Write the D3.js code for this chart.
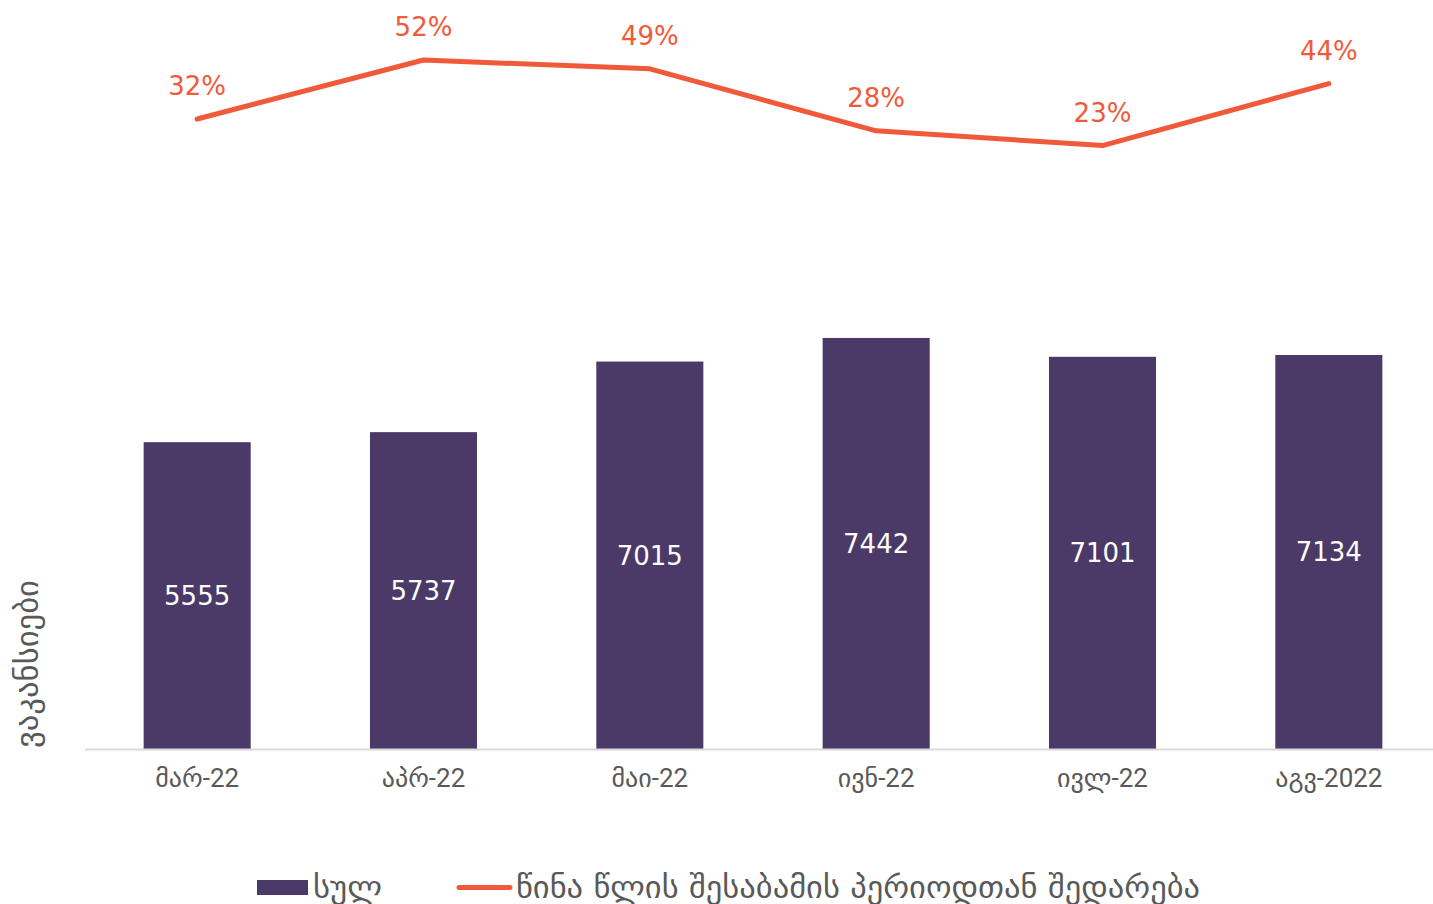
<!DOCTYPE html>
<html><head><meta charset="utf-8">
<script src="https://cdn.jsdelivr.net/npm/d3@7"></script>
<style>body{margin:0;background:#fff}svg{display:block}</style>
</head><body>
<script>
const categories = ["მარ-22","აპრ-22","მაი-22","ივნ-22","ივლ-22","აგვ-2022"];
const totals = [5555,5737,7015,7442,7101,7134];
const yoy = [0.32,0.52,0.49,0.28,0.23,0.44];
const seriesNames = ["სულ","წინა წლის შესაბამის პერიოდთან შედარება"];
const yTitle = "ვაკანსიები";

const W=1433,H=904;
const svg=d3.select("body").append("svg").attr("width",W).attr("height",H);
const purple="#4B3A67", orange="#F05A3A", grey="#595959";
const x=d3.scaleBand().domain(categories).range([84,1442]).paddingInner(0.527).paddingOuter(0.2635);
const y=d3.scaleLinear().domain([0,13000]).range([749,31]);
const y2=d3.scaleLinear().domain([0,0.6]).range([213.4,36.4]);

svg.selectAll("rect.bar").data(totals).join("rect").attr("class","bar")
  .attr("x",(d,i)=>x(categories[i])).attr("width",x.bandwidth())
  .attr("y",d=>y(d)).attr("height",d=>y(0)-y(d)).attr("fill",purple);

const ax=svg.append("g").attr("transform","translate(0,749)").call(d3.axisBottom(x).tickSize(0).tickPadding(20));
ax.select(".domain").remove();
svg.append("line").attr("x1",85).attr("x2",1433).attr("y1",749.5).attr("y2",749.5).attr("stroke","#d9d9d9").attr("stroke-width",2);
ax.selectAll("text").attr("font-family","Roboto, 'DejaVu Sans', sans-serif").attr("font-size",26).attr("fill",grey);

svg.selectAll("text.bl").data(totals).join("text").attr("class","bl")
  .attr("x",(d,i)=>x(categories[i])+x.bandwidth()/2).attr("y",d=>(y(d)+y(0))/2)
  .attr("dy","0.36em").attr("text-anchor","middle").attr("fill","#fff")
  .attr("font-family","'DejaVu Sans', sans-serif").attr("font-size",26).text(d=>d);

const cx=(i)=>x(categories[i])+x.bandwidth()/2;
svg.append("path").datum(yoy).attr("fill","none").attr("stroke",orange).attr("stroke-width",5).attr("stroke-linecap","round").attr("stroke-linejoin","round")
  .attr("d",d3.line().x((d,i)=>cx(i)).y(d=>y2(d)));
svg.selectAll("text.ll").data(yoy).join("text").attr("class","ll")
  .attr("x",(d,i)=>cx(i)).attr("y",d=>y2(d)-24).attr("text-anchor","middle").attr("fill",orange)
  .attr("font-family","'DejaVu Sans', sans-serif").attr("font-size",26).text(d=>Math.round(d*100)+"%");

svg.append("text").attr("transform","translate(38,664) rotate(-90)").attr("text-anchor","middle")
  .attr("fill",grey).attr("font-family","'DejaVu Sans', sans-serif").attr("font-size",30)
  .attr("textLength",168).attr("lengthAdjust","spacingAndGlyphs").text(yTitle);

const lg=svg.append("g").attr("font-family","'DejaVu Sans', sans-serif").attr("font-size",30).attr("fill",grey);
lg.append("rect").attr("x",257).attr("y",880).attr("width",51).attr("height",15).attr("fill",purple);
lg.append("text").attr("x",313).attr("y",887).attr("dy","0.36em").attr("textLength",69).attr("lengthAdjust","spacingAndGlyphs").text(seriesNames[0]);
lg.append("line").attr("x1",459).attr("x2",510).attr("y1",887.5).attr("y2",887.5).attr("stroke",orange).attr("stroke-width",5).attr("stroke-linecap","round");
lg.append("text").attr("x",516).attr("y",887).attr("dy","0.36em").attr("textLength",684).attr("lengthAdjust","spacingAndGlyphs").text(seriesNames[1]);
</script>
</body></html>
